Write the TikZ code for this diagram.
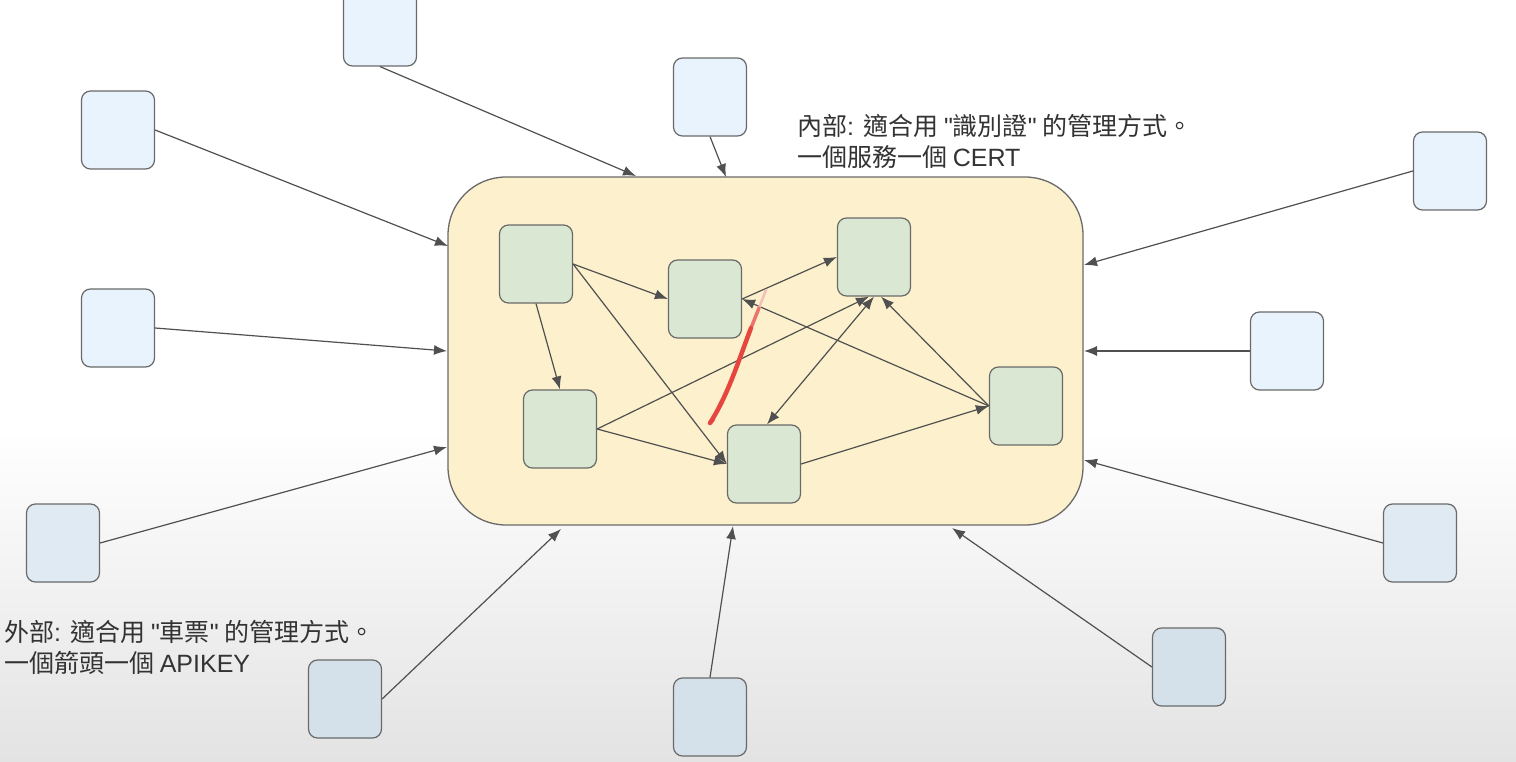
\documentclass[tikz,border=0pt]{standalone}
\usepackage{fontspec}
\newfontfamily\cjk{Noto Sans CJK TC}
\newfontfamily\lat{Liberation Sans}
\usetikzlibrary{arrows.meta}
\definecolor{bluebox}{HTML}{E8F3FD}
\definecolor{bluemid}{HTML}{DFEAF3}
\definecolor{bluelow}{HTML}{D4E0EA}
\definecolor{greenbox}{HTML}{D9E7D3}
\definecolor{yellowbox}{HTML}{FCF1CC}
\definecolor{edgegray}{HTML}{6A6A6A}
\definecolor{arrowgray}{HTML}{505050}
\definecolor{textgray}{HTML}{333333}
\definecolor{penred}{HTML}{E5463F}
\begin{document}
\begin{tikzpicture}[x=1pt,y=-1pt,
  outerbox/.style={draw=edgegray, line width=1.2pt, rounded corners=9pt, fill=bluebox, minimum width=73pt, minimum height=78pt, inner sep=0pt},
  innerbox/.style={draw=edgegray, line width=1.2pt, rounded corners=9pt, fill=greenbox, minimum width=73pt, minimum height=78pt, inner sep=0pt},
  bigbox/.style={draw=edgegray, line width=1.3pt, rounded corners=58pt, fill=yellowbox, minimum width=635pt, minimum height=348pt, inner sep=0pt},
  conn/.style={draw=arrowgray, line width=1.2pt, -{Latex[length=13pt,width=10pt]}},
  biconn/.style={draw=arrowgray, line width=1.2pt, {Latex[length=13pt,width=10pt]}-{Latex[length=13pt,width=10pt]}},
  note/.style={anchor=north west, align=left, text=textgray, inner sep=0pt, font=\cjk\fontsize{25}{31}\selectfont},
  pen/.style={draw=penred, line width=4.5pt, line cap=round, line join=round}
]
\useasboundingbox (0,0) rectangle (1516,762);
\clip (0,0) rectangle (1516,762);
\fill[white] (0,0) rectangle (1516,762);
\shade[top color=white, bottom color=black!11] (0,430) rectangle (1516,762);

% big container
\node[bigbox] (big) at (765.5,351) {};

% outer boxes
\node[outerbox] (o1) at (380,27) {};
\node[outerbox] (o2) at (710,97) {};
\node[outerbox] (o3) at (118,130) {};
\node[outerbox] (o4) at (118,328) {};
\node[outerbox, fill=bluemid] (o5) at (63,543) {};
\node[outerbox, fill=bluelow] (o6) at (345,699) {};
\node[outerbox, fill=bluelow] (o7) at (710,717) {};
\node[outerbox, fill=bluelow] (o8) at (1189,667) {};
\node[outerbox, fill=bluemid] (o9) at (1420,543) {};
\node[outerbox] (o10) at (1287,351) {};
\node[outerbox] (o11) at (1450,171) {};

% targets on the container border
\coordinate (t1) at (636,176);
\coordinate (t2) at (726,177);
\coordinate (t3) at (448,246);
\coordinate (t4) at (447,351);
\coordinate (t5) at (447,447);
\coordinate (t6) at (561,529);
\coordinate (t7) at (733,526);
\coordinate (t8) at (952,528);
\coordinate (t9) at (1084,460);
\coordinate (t10) at (1084,351);
\coordinate (t11) at (1084,265);

\draw[conn] (o1.south) -- (t1);
\draw[conn] (o2.south) -- (t2);
\draw[conn] (o3.east) -- (t3);
\draw[conn] (o4.east) -- (t4);
\draw[conn] (o5.east) -- (t5);
\draw[conn] (o6.east) -- (t6);
\draw[conn] (o7.north) -- (t7);
\draw[conn] (o8.west) -- (t8);
\draw[conn] (o9.west) -- (t9);
\draw[conn] (o10.west) -- (t10);
\draw[conn] (o11.west) -- (t11);

% inner boxes
\node[innerbox] (A) at (536,264) {};
\node[innerbox] (B) at (705,299) {};
\node[innerbox] (C) at (874,257) {};
\node[innerbox] (D) at (560,429) {};
\node[innerbox] (E) at (764,464) {};
\node[innerbox] (F) at (1026,406) {};

\draw[conn] (A.east) -- (B.west);
\draw[conn] (A.south) -- (D.north);
\draw[conn] (A.east) -- (E.west);
\draw[conn] (B.east) -- (C.west);
\draw[conn] (F.west) -- (B.east);
\draw[conn] (D.east) -- ([xshift=-5pt]C.south);
\draw[conn] (D.east) -- (E.west);
\draw[biconn] (C.south) -- ([xshift=3pt]E.north);
\draw[conn] (F.west) -- ([xshift=7pt]C.south);
\draw[conn] (E.east) -- (F.west);

% red pen stroke
\draw[pen, draw=penred!35, line width=2.5pt] (766,290) -- (759,308);
\draw[pen, draw=penred!75, line width=3.5pt] (759,308) -- (751,328);
\draw[pen] (751,328) .. controls (738,362) and (728,395) .. (710,423) -- (713,419);

% notes
\node[note] (n1) at (797,114) {內部{\lat: }適合用 {\lat"}識別證{\lat"} 的管理方式。\\一個服務一個 {\lat CERT}};
\node[note] (n2) at (4,620) {外部{\lat: }適合用 {\lat"}車票{\lat"} 的管理方式。\\一個箭頭一個 {\lat APIKEY}};
\end{tikzpicture}
\end{document}
